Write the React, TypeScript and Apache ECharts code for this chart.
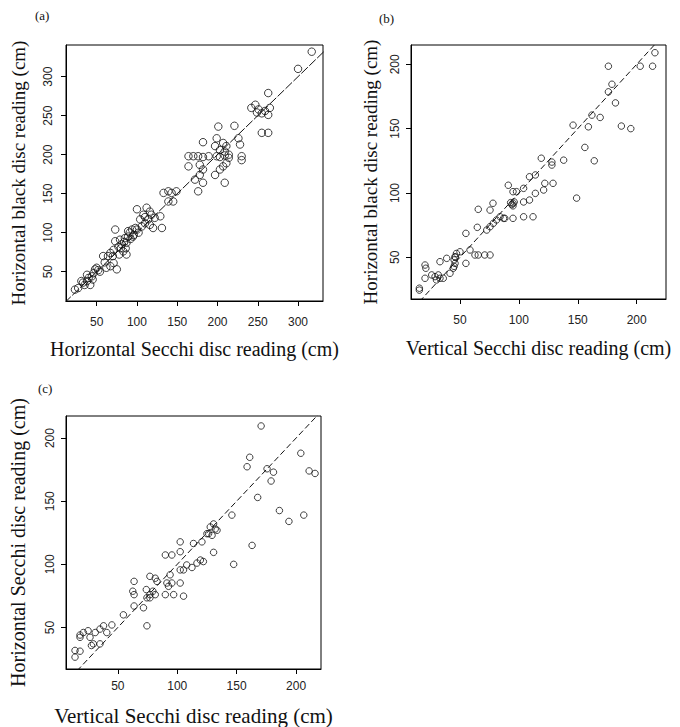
import React, { useEffect, useRef } from "react";
import * as echarts from "echarts";

// Tick values
const ticksA = [50, 100, 150, 200, 250, 300];
const ticksBC = [50, 100, 150, 200];

// Panel (a): Horizontal Secchi (x) vs Horizontal black disc (y)
const pointsA: number[][] = [
  [317, 332], [300, 310], [263, 279],
  [242, 260], [247, 264], [251, 258], [255, 253], [259, 256], [263, 251], [265, 260], [249, 254],
  [255, 228], [263, 228],
  [201, 236], [221, 237], [182, 216], [226, 221], [228, 213], [230, 198], [230, 193],
  [199, 221], [207, 215], [211, 211], [197, 211], [203, 206], [209, 204],
  [164, 198], [170, 198], [176, 198], [182, 197], [189, 198], [199, 198], [203, 197], [209, 199], [214, 200],
  [164, 185], [178, 187], [182, 181], [178, 174], [197, 174], [203, 181], [207, 185], [211, 189], [214, 196],
  [209, 164], [176, 153], [172, 168], [182, 164],
  [133, 151], [139, 153], [143, 151], [149, 153], [139, 140], [145, 140],
  [100, 130], [112, 132], [116, 127], [108, 123], [104, 117], [114, 117], [110, 112], [116, 110], [120, 106],
  [129, 121], [131, 106], [100, 104], [118, 123], [122, 119], [110, 120], [106, 108], [102, 100],
  [94, 104], [98, 106], [89, 102], [96, 97], [73, 104], [92, 92], [95, 95],
  [67, 74], [71, 78], [77, 82], [81, 85], [73, 89], [79, 91], [85, 93], [89, 95], [87, 87], [91, 100],
  [83, 76], [87, 72], [80, 80], [84, 88], [78, 72], [70, 70], [86, 80],
  [62, 55], [67, 57], [71, 61], [75, 53], [58, 70], [64, 70], [60, 62],
  [38, 46], [44, 44], [48, 53], [50, 55], [46, 48], [54, 50], [52, 52], [45, 40], [40, 42],
  [33, 36], [38, 38], [42, 33], [31, 38], [35, 33],
  [23, 27], [27, 29],
];

// Panel (b): Vertical Secchi (x) vs Horizontal black disc (y)
const pointsB: number[][] = [
  [215.5, 209], [203, 198.5], [213.5, 198.5], [176, 198.5], [179, 184.5], [176, 178.6], [182, 170],
  [162, 160.5], [169, 158.7], [146, 152.7], [159, 151.4], [187, 152], [195, 150], [156, 135.4], [164, 125],
  [119, 127], [128, 124], [138, 125.5], [128, 121.7], [109, 112.6], [114, 114], [149, 96],
  [104, 93], [109, 94.5], [114, 99.7], [121, 102.3], [122, 107.5], [129, 107.5], [91, 106], [95, 101],
  [98, 101], [104, 103.6],
  [95, 92], [94, 91], [96, 93], [93, 92.5], [95, 90],
  [87, 80.3], [88, 80.3], [95, 80.3], [104, 81.5], [112, 81.5],
  [75.5, 86.7], [78, 92], [65.5, 87.3], [64.7, 73.3], [72.7, 71.2], [75.5, 73.8], [78.3, 76.4], [81, 79], [84, 81.5],
  [55, 68.6], [58.5, 55.7], [62.7, 51.8], [65.5, 51.8], [71, 51.8], [75.5, 51.8], [55, 45.3],
  [41.5, 37.6], [44.3, 41.5], [45.8, 45.3], [45.8, 50.5], [47, 53], [50, 54.3], [33, 46.6], [38.7, 49.2],
  [45, 48], [45, 43], [46, 50],
  [20.3, 44], [21, 41.5], [20.3, 33.7], [26, 36.3], [28.8, 35], [30, 32.4], [33, 33.7], [31.6, 36.3], [35.8, 33.7],
  [15.5, 26], [15.5, 24.5],
];

// Panel (c): Vertical Secchi (x) vs Horizontal Secchi (y)
const pointsC: number[][] = [
  [170.6, 209.6], [161, 184.8], [158.8, 177.3], [175.6, 175.7], [181, 173], [179, 166], [204, 188],
  [211, 174], [216, 172], [167.7, 153], [146, 139], [186, 142.6], [194, 134], [206.5, 139],
  [127.8, 129.6], [130.6, 132], [132, 128], [126.4, 124.3], [125, 124.3], [129.3, 123], [133.5, 127],
  [102.5, 117.8], [113.7, 116.5], [120.8, 117.8], [102.5, 110], [90, 107.4], [95.5, 107.4], [130.6, 109.5],
  [147.5, 100], [163, 115],
  [108, 99.5], [112.4, 97.5], [116.6, 101], [119.5, 103.4], [122, 102.2], [105.3, 95.6], [102.5, 95.6],
  [94, 91.7], [95.5, 85.2], [91.3, 85.2], [92.7, 82.6], [102.5, 85.2], [77, 90.5], [81.5, 89], [83, 86.5],
  [90, 76], [97, 76], [105.3, 74.8], [63.7, 86.5], [62.6, 78.7], [63.7, 76], [74, 80], [77, 76], [79.5, 78.7],
  [81.5, 76], [77, 73.5], [74.5, 73.5],
  [63.7, 67], [71.6, 65.6], [54.7, 60], [74.5, 51.3],
  [38, 51.3], [45, 52], [40.7, 46], [35, 48.7], [31, 46], [25, 47.4], [21, 46],
  [18.2, 42.2], [26.6, 42.2], [29.4, 37], [35, 37], [27.8, 35.7], [18.2, 44],
  [14, 31.8], [18.2, 31.2], [14, 26.5],
];

// 1:1 reference line endpoints (clipped to the plot area)
const oneToOne: number[][] = [[0, 0], [400, 400]];

const panelLabels = ["(a)", "(b)", "(c)"];
const xNames = [
  "Horizontal Secchi disc reading (cm)",
  "Vertical Secchi disc reading (cm)",
  "Vertical Secchi disc reading (cm)",
];
const yNames = [
  "Horizontal black disc reading (cm)",
  "Horizontal black disc reading (cm)",
  "Horizontal Secchi disc reading (cm)",
];

const serif = '"Liberation Serif", "DejaVu Serif", "Times New Roman", serif';
const sans = '"Liberation Sans", "DejaVu Sans", Arial, sans-serif';

function xAxis(gi: number, min: number, max: number, ticks: number[], name: string, nameGap: number, margin: number, nameSize: number) {
  return {
    type: "value", gridIndex: gi, min, max, name, nameLocation: "middle", nameGap,
    nameTextStyle: { fontFamily: serif, fontSize: nameSize, color: "#111" },
    axisLine: { show: true, lineStyle: { color: "#000", width: 1 } },
    axisTick: { show: true, inside: false, length: 5, customValues: ticks, lineStyle: { color: "#000", width: 1 } },
    axisLabel: { customValues: ticks, margin, fontFamily: sans, fontSize: 12, color: "#222" },
    splitLine: { show: false },
  };
}

function yAxis(gi: number, min: number, max: number, ticks: number[], name: string, nameGap: number, margin: number, nameSize: number) {
  return {
    type: "value", gridIndex: gi, min, max, name, nameLocation: "middle", nameGap, nameRotate: 90,
    nameTextStyle: { fontFamily: serif, fontSize: nameSize, color: "#111" },
    axisLine: { show: true, lineStyle: { color: "#000", width: 1 } },
    axisTick: { show: true, inside: false, length: 5, customValues: ticks, lineStyle: { color: "#000", width: 1 } },
    axisLabel: { customValues: ticks, margin, rotate: 90, fontFamily: sans, fontSize: 12, color: "#222" },
    splitLine: { show: false },
  };
}

function scatter(i: number, data: number[][], size: number) {
  return {
    type: "scatter", xAxisIndex: i, yAxisIndex: i, data, symbol: "circle", symbolSize: size,
    itemStyle: { color: "rgba(0,0,0,0)", borderColor: "#111", borderWidth: 1 },
    silent: true,
  };
}

function refLine(i: number, dash: number[]) {
  return {
    type: "line", xAxisIndex: i, yAxisIndex: i, data: oneToOne, clip: true, symbol: "none",
    lineStyle: { color: "#111", width: 1, type: dash }, silent: true,
  };
}

export default function App() {
  const ref = useRef<HTMLDivElement>(null);
  useEffect(() => {
    const chart = echarts.init(ref.current!, null, { renderer: "svg" });
    const gridStyle = { show: true, borderColor: "#000", borderWidth: 1, backgroundColor: "transparent" };
    const labelStyle = { fontFamily: serif, fontSize: 13, fontWeight: "normal", color: "#111" };
    chart.setOption({
      animation: false,
      backgroundColor: "#fff",
      title: [
        { text: panelLabels[0], left: 30, top: 4, textStyle: labelStyle },
        { text: panelLabels[1], left: 374, top: 7, textStyle: labelStyle },
        { text: panelLabels[2], left: 33, top: 377, textStyle: labelStyle },
      ],
      grid: [
        { left: 66, top: 45, width: 257, height: 256, ...gridStyle },
        { left: 411, top: 45, width: 255, height: 254, ...gridStyle },
        { left: 66, top: 416, width: 255, height: 256, ...gridStyle },
      ],
      xAxis: [
        xAxis(0, 11.9, 331, ticksA, xNames[0], 38, 15, 20),
        xAxis(1, 8.4, 224.9, ticksBC, xNames[1], 39, 15, 20),
        xAxis(2, 6.4, 221, ticksBC, xNames[2], 36, 11, 21),
      ],
      yAxis: [
        yAxis(0, 12.4, 340.6, ticksA, yNames[0], 38, 12, 19),
        yAxis(1, 17.6, 215, ticksBC, yNames[1], 31, 10, 19),
        yAxis(2, 17.1, 217.5, ticksBC, yNames[2], 38, 10, 20),
      ],
      series: [
        refLine(0, [9, 2]),
        scatter(0, pointsA, 7.5),
        refLine(1, [6, 3]),
        scatter(1, pointsB, 6.5),
        refLine(2, [6, 3]),
        scatter(2, pointsC, 6.5),
      ],
    });
    return () => chart.dispose();
  }, []);
  return (
    <div
      ref={ref}
      style={{ position: "absolute", left: 0, top: 0, width: 680, height: 727, background: "#fff" }}
    />
  );
}
